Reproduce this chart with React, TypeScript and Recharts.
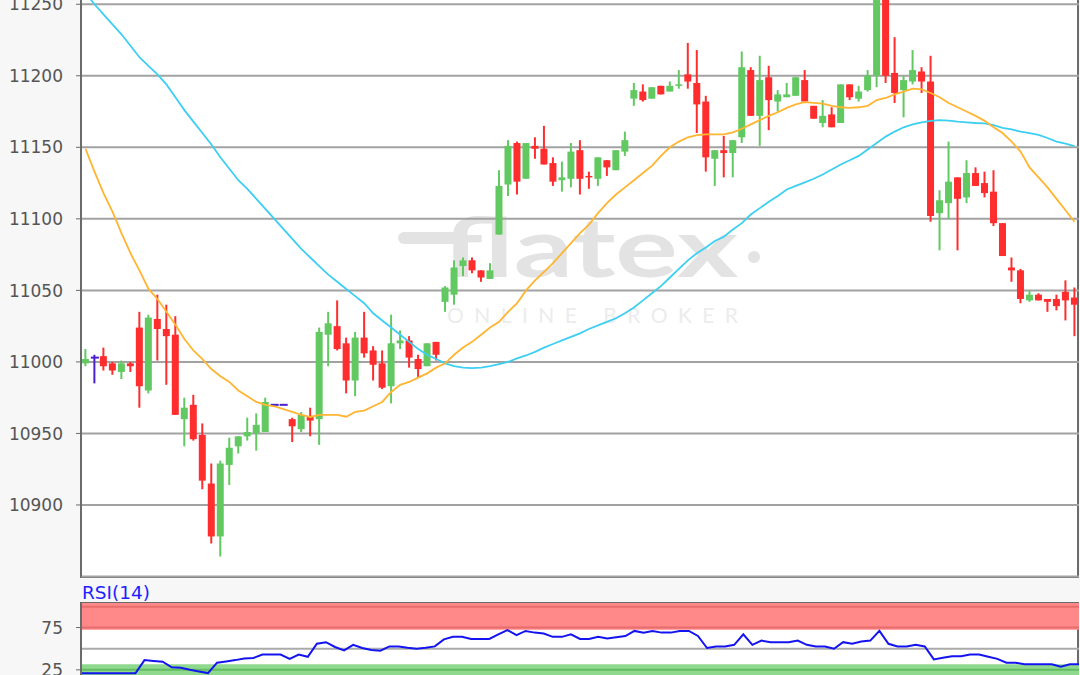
import React from 'react';
import {
  ComposedChart,
  LineChart,
  Bar,
  Line,
  XAxis,
  YAxis,
  CartesianGrid,
  ReferenceArea,
  ReferenceLine,
} from 'recharts';

// ---------- data ----------
const opens = [
  10999, 11003, 11004, 10999, 10993, 10999, 11024, 10980, 11030, 11023,
  11019, 10960, 10970, 10949, 10915, 10878, 10928, 10941, 10948, 10950,
  10951, 10970, 10970, 10960, 10953, 10962, 10960, 11019, 11025, 11013,
  10987, 11017, 11008, 10999, 10983, 11013, 11015, 11002, 10997, 11014,
  11042, 11047, 11067, 11071, 11064, 11058, 11089, 11124, 11153, 11128,
  11151, 11149, 11139, 11127, 11128, 11148, 11130, 11128, 11141, 11134,
  11147, 11184, 11189, 11184, 11193, 11189, 11193, 11201, 11195, 11182,
  11142, 11148, 11146, 11157, 11204, 11172, 11199, 11182, 11185, 11186,
  11197, 11179, 11167, 11173, 11167, 11194, 11184, 11190, 11200, 11255,
  11202, 11190, 11196, 11203, 11196, 11104, 11111, 11129, 11115, 11132,
  11125, 11119, 11097, 11066, 11064, 11043, 11047, 11044, 11044, 11049,
  11045,
];
const highs = [
  11009, 11005, 11010, 11000, 11001, 11000, 11035, 11033, 11047, 11040,
  11032, 10975, 10977, 10957, 10929, 10931, 10947, 10948, 10961, 10964,
  10975, 10970, 10970, 10961, 10965, 10968, 11024, 11035, 11043, 11017,
  11021, 11035, 11011, 11008, 11033, 11022, 11018, 11005, 11013, 11014,
  11053, 11071, 11073, 11073, 11064, 11069, 11134, 11155, 11154, 11153,
  11157, 11165, 11143, 11140, 11153, 11155, 11133, 11143, 11141, 11148,
  11161, 11195, 11194, 11192, 11193, 11196, 11204, 11223, 11218, 11186,
  11148, 11158, 11155, 11217, 11206, 11214, 11207, 11190, 11195, 11199,
  11204, 11179, 11183, 11178, 11194, 11194, 11193, 11204, 11265, 11262,
  11227, 11200, 11218, 11206, 11214, 11120, 11154, 11129, 11141, 11136,
  11133, 11134, 11097, 11073, 11065, 11050, 11048, 11044, 11047, 11057,
  11052,
];
const lows = [
  10997, 10985, 10994, 10991, 10988, 10993, 10968, 10978, 11001, 10984,
  10963, 10941, 10945, 10911, 10873, 10864, 10914, 10936, 10945, 10938,
  10951, 10970, 10970, 10944, 10951, 10948, 10942, 10997, 11008, 10978,
  10976, 11003, 10987, 10981, 10971, 11009, 10996, 10989, 10997, 11001,
  11035, 11040, 11060, 11062, 11056, 11058, 11089, 11116, 11117, 11128,
  11142, 11138, 11123, 11119, 11122, 11117, 11121, 11123, 11130, 11134,
  11144, 11179, 11182, 11184, 11187, 11189, 11191, 11191, 11160, 11133,
  11123, 11129, 11129, 11153, 11172, 11151, 11162, 11175, 11185, 11186,
  11182, 11170, 11164, 11164, 11167, 11183, 11182, 11189, 11192, 11195,
  11181, 11171, 11194, 11188, 11098, 11078, 11100, 11078, 11111, 11123,
  11115, 11095, 11074, 11056, 11041, 11042, 11043, 11035, 11036, 11029,
  11018,
];
const closes = [
  11002, 11003, 10997, 10994, 10999, 10997, 10983, 11031, 11023, 11018,
  10963, 10968, 10946, 10917, 10878, 10929, 10940, 10948, 10951, 10956,
  10972, 10970, 10970, 10955, 10963, 10959, 11021, 11027, 11009, 10987,
  11017, 11006, 10998, 10982, 11013, 11015, 11003, 10995, 11013, 11005,
  11052, 11066, 11071, 11064, 11059, 11064, 11123, 11151, 11126, 11153,
  11149, 11138, 11126, 11129, 11147, 11128, 11129, 11143, 11136, 11148,
  11155, 11190, 11183, 11192, 11187, 11193, 11194, 11196, 11180, 11143,
  11148, 11146, 11155, 11206, 11172, 11197, 11183, 11187, 11187, 11199,
  11182, 11170, 11172, 11164, 11194, 11185, 11189, 11200, 11258, 11200,
  11188, 11197, 11204, 11196, 11102, 11113, 11126, 11114, 11132, 11123,
  11118, 11097, 11074, 11064, 11044, 11047, 11043, 11042, 11039, 11043,
  11040,
];
// orange moving average
const maFast = [
  11149, 11133, 11118, 11105, 11090, 11076, 11064, 11051, 11044, 11035,
  11026, 11016, 11008, 11002, 10995, 10990, 10986, 10980, 10976, 10972,
  10970, 10969, 10967, 10965, 10963, 10961.5, 10963, 10963, 10963, 10961.7,
  10965, 10966, 10969, 10972, 10979, 10984, 10986, 10989, 10992, 10996,
  10999, 11005, 11010, 11014, 11019, 11024, 11028, 11035, 11041, 11050,
  11057, 11063, 11069, 11076, 11083, 11090, 11096, 11104, 11111, 11117,
  11122, 11127, 11132, 11137, 11144, 11150, 11154, 11157, 11158.5, 11159,
  11159, 11159, 11160.5, 11163, 11166, 11169, 11172, 11174.5, 11177.6, 11180,
  11181.6, 11181, 11180.5, 11179, 11178, 11177.6, 11178, 11179, 11183, 11184.5,
  11187, 11189, 11191, 11190.5, 11188, 11185, 11181, 11178, 11175, 11172,
  11168.5, 11164, 11160, 11154, 11147, 11136, 11129, 11122, 11114, 11106,
  11098,
];
// cyan moving average
const maSlow = [
  11258, 11250, 11243, 11236, 11229, 11221, 11213, 11207, 11201, 11194,
  11185, 11176, 11168, 11160, 11152, 11143, 11135, 11127, 11121, 11114,
  11107, 11100, 11093, 11086, 11079, 11073, 11067, 11061, 11056, 11051,
  11046, 11041, 11034, 11029, 11024, 11019, 11014, 11009, 11005, 11002,
  10999, 10997, 10996, 10995.6, 10996, 10997, 10998.5, 11000, 11002.5, 11004.5,
  11007, 11010, 11012.5, 11015, 11017.5, 11020, 11023, 11025.5, 11028, 11030.5,
  11034, 11038, 11043, 11048, 11053, 11059, 11065, 11071, 11076, 11080,
  11084.5, 11087.5, 11092.5, 11097, 11103, 11107.5, 11112, 11116, 11120.5, 11123,
  11125.5, 11128, 11131, 11134.5, 11138, 11141, 11144, 11148.5, 11153, 11157.5,
  11161, 11164, 11166, 11167.5, 11168.5, 11169, 11168.7, 11168, 11167.5, 11167,
  11166.8, 11165.5, 11163.6, 11162.5, 11161, 11160, 11158.7, 11156.5, 11154, 11152.5,
  11150.8,
];
const rsiValues = [
  21, 21, 21, 21, 21, 21, 21, 36.5, 35.5, 34.6,
  28, 27.5, 25, 23, 21.2, 33.5, 35, 36.5, 38.5, 39,
  43, 43, 43, 38, 43, 40.4, 55.8, 57.7, 52, 48,
  54.6, 50.8, 48.5, 47.7, 52.7, 52.7, 51, 50, 51, 52.7,
  61, 64, 64, 61.5, 61.5, 61.5, 67, 72, 66, 71,
  69, 68, 64, 64, 67, 61.5, 61.5, 64, 62, 63.5,
  65, 71, 69, 71, 69, 69, 71, 71, 65, 50.8,
  52.7, 52.7, 54.6, 67, 54.6, 59.6, 57.7, 57.7, 57.7, 59.6,
  54.6, 52.7, 52.7, 50, 57.7, 55.8, 58.5, 59.6, 71, 55.8,
  52.7, 52.7, 54.6, 52.7, 37.3, 39.2, 41, 41, 43, 43,
  40.4, 38, 33.5, 33.5, 31.5, 31.5, 31.5, 31.5, 28.8, 31.5,
  31.5,
];
const priceTicks = [10900, 10950, 11000, 11050, 11100, 11150, 11200, 11250];
const rsiTicks = [25, 75];
const priceDomain: [number, number] = [10850, 11275];
const rsiDomain: [number, number] = [0, 104];

const priceData = opens.map((o, k) => ({
  idx: k + 1,
  open: o,
  high: highs[k],
  low: lows[k],
  close: closes[k],
  range: [lows[k], highs[k]],
  maFast: maFast[k],
  maSlow: maSlow[k],
}));
const rsiData = rsiValues.map((v, k) => ({ idx: k + 1, rsi: v }));

// ---------- styles ----------
const GREEN = '#62c962';
const RED = '#ff2d2d';
const DOJI = '#4a1fd0';
const AXIS = '#6b6b6b';
const GRID = '#a2a2a2';
const LABEL = '#555555';
const FONT = '"DejaVu Sans", Verdana, sans-serif';

const Candle = (props: any) => {
  const { x, y, width, height, payload } = props;
  if (x == null || y == null || !payload) return null;
  const { open, high, low, close } = payload;
  const cx = x + width / 2;
  const span = high - low;
  const h = height || 0;
  const yOf = (v: number) => (span > 0 ? y + ((high - v) / span) * h : y);
  const color = close > open ? GREEN : close < open ? RED : DOJI;
  const bw = 7;
  const top = yOf(Math.max(open, close));
  const bot = yOf(Math.min(open, close));
  const flat = close === open;
  const bh = Math.max(bot - top, flat ? 2 : 1.5);
  return (
    <g>
      <line x1={cx} x2={cx} y1={yOf(high)} y2={yOf(low)} stroke={color} strokeWidth={2} />
      <rect x={cx - bw / 2} y={flat ? top - 1 : top} width={flat ? bw + 1 : bw} height={bh} fill={color} />
    </g>
  );
};

const AxisTick = (props: any) => {
  const { y, payload } = props;
  return (
    <text x={63} y={y} dy="0.36em" textAnchor="end" fontFamily={FONT} fontSize={17} fill={LABEL}>
      {payload.value}
    </text>
  );
};

export default function App() {
  return (
    <div
      style={{
        position: 'absolute',
        left: 0,
        top: 0,
        width: 1080,
        height: 675,
        overflow: 'hidden',
        background: '#f7f7f7',
      }}
    >
      {/* main plot frame */}
      <div
        style={{
          position: 'absolute',
          left: 80,
          top: -5,
          width: 999,
          height: 583,
          boxSizing: 'border-box',
          border: `2px solid ${AXIS}`,
          background: '#ffffff',
        }}
      />
      {/* watermark */}
      <svg style={{ position: 'absolute', left: 0, top: 0 }} width={1080} height={675}>
        <line x1={404} y1={238} x2={452} y2={238} stroke="#e3e3e3" strokeWidth={12} strokeLinecap="round" />
        <text
          x={442}
          y={277}
          fontFamily="Lato, 'Open Sans', sans-serif"
          fontWeight={700}
          fontSize={82}
          fill="#e3e3e3"
          textLength={296}
          lengthAdjust="spacingAndGlyphs"
        >
          flatex
        </text>
        <circle cx={754} cy={257} r={6} fill="#e3e3e3" />
        <text
          x={447}
          y={323}
          fontFamily="Lato, 'Open Sans', sans-serif"
          fontSize={21}
          fill="#ececec"
          textLength={291}
          lengthAdjust="spacing"
        >
          ONLINE BROKER
        </text>
      </svg>
      {/* main price chart */}
      <div style={{ position: 'absolute', left: 0, top: -40 }}>
        <ComposedChart
          width={1080}
          height={640}
          data={priceData}
          margin={{ top: 8.5, right: 1, bottom: 23.5, left: 0 }}
        >
          <CartesianGrid horizontal vertical={false} stroke={GRID} strokeWidth={2} />
          <XAxis dataKey="idx" type="category" hide />
          <YAxis
            width={81}
            domain={priceDomain}
            allowDataOverflow
            ticks={priceTicks}
            interval={0}
            tickSize={5}
            tick={AxisTick}
            tickLine={{ stroke: AXIS }}
            axisLine={{ stroke: AXIS, strokeWidth: 2 }}
          />
          <Line
            type="linear"
            dataKey="maSlow"
            stroke="#3dcff2"
            strokeWidth={1.8}
            dot={false}
            activeDot={false}
            isAnimationActive={false}
          />
          <Line
            type="linear"
            dataKey="maFast"
            stroke="#ffb531"
            strokeWidth={1.8}
            dot={false}
            activeDot={false}
            isAnimationActive={false}
          />
          <Bar dataKey="range" shape={Candle} isAnimationActive={false} />
        </ComposedChart>
      </div>
      {/* RSI label */}
      <svg style={{ position: 'absolute', left: 0, top: 0 }} width={1080} height={675}>
        <text x={82} y={599} fontFamily={FONT} fontSize={18.5} fill="#1f1fff">
          RSI(14)
        </text>
      </svg>
      {/* RSI frame */}
      <div
        style={{
          position: 'absolute',
          left: 80,
          top: 602,
          width: 999,
          height: 100,
          boxSizing: 'border-box',
          border: `2px solid ${AXIS}`,
          background: '#ffffff',
        }}
      />
      {/* RSI chart */}
      <div style={{ position: 'absolute', left: 0, top: 560 }}>
        <LineChart
          width={1080}
          height={140}
          data={rsiData}
          margin={{ top: 43, right: 1, bottom: 9, left: 0 }}
        >
          <XAxis dataKey="idx" type="category" hide />
          <YAxis
            width={81}
            domain={rsiDomain}
            allowDataOverflow
            ticks={rsiTicks}
            interval={0}
            tickSize={5}
            tick={AxisTick}
            tickLine={{ stroke: AXIS }}
            axisLine={{ stroke: AXIS, strokeWidth: 2 }}
          />
          <ReferenceArea y1={72.5} y2={104} fill="#ff8888" fillOpacity={1} stroke="none" />
          <ReferenceLine y={99.5} stroke="#e86d6d" strokeWidth={2} />
          <ReferenceLine y={75} stroke="#e86d6d" strokeWidth={2} />
          <ReferenceLine y={50} stroke="#aaaaaa" strokeWidth={2} />
          <ReferenceArea y1={0} y2={31.5} fill="#8fd98f" fillOpacity={1} stroke="none" />
          <ReferenceLine y={25} stroke="#62bd62" strokeWidth={2} />
          <Line
            type="linear"
            dataKey="rsi"
            stroke="#1414f0"
            strokeWidth={2}
            dot={false}
            activeDot={false}
            isAnimationActive={false}
          />
        </LineChart>
      </div>
    </div>
  );
}
